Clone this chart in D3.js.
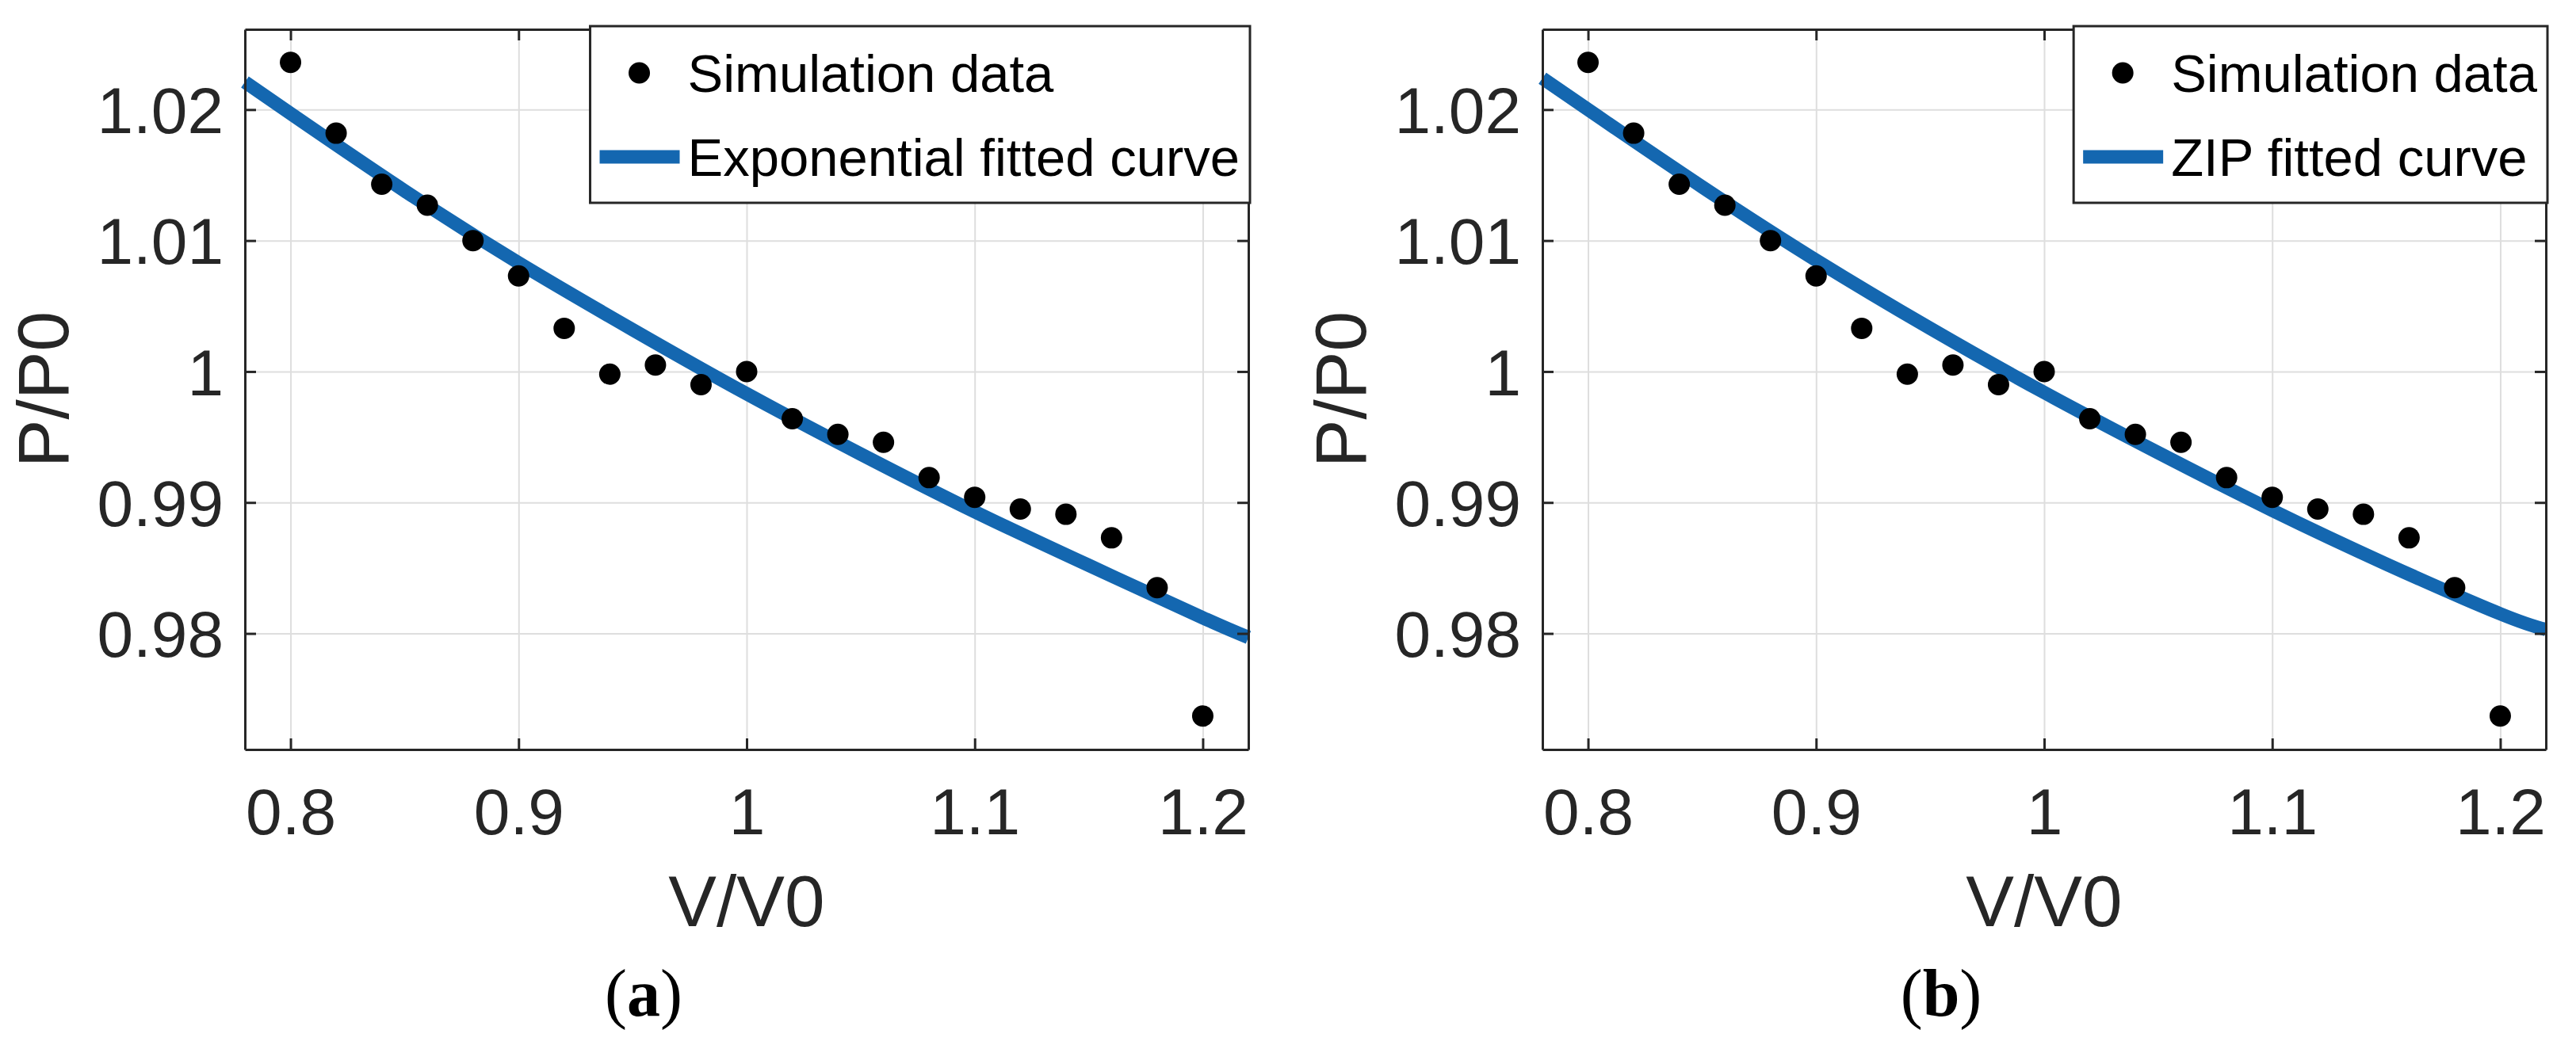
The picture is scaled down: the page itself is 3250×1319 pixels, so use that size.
<!DOCTYPE html>
<html>
<head>
<meta charset="utf-8">
<script src="https://cdn.jsdelivr.net/npm/d3@7"></script>
<style>
  body { margin: 0; background: #fff; }
  svg text { font-family: "Liberation Sans", Arial, sans-serif; }
</style>
</head>
<body>
<div class="contents"></div>
<script>
// simulation points (same in both panels)
var vRatio = [0.80, 0.82, 0.84, 0.86, 0.88, 0.90, 0.92, 0.94, 0.96, 0.98, 1.00,
              1.02, 1.04, 1.06, 1.08, 1.10, 1.12, 1.14, 1.16, 1.18, 1.20];
var pSim = [1.0236, 1.0182, 1.0143, 1.0127, 1.0100, 1.0073, 1.0033, 0.9998, 1.0005, 0.9990, 1.0000,
            0.9964, 0.9952, 0.9946, 0.9919, 0.9904, 0.9895, 0.9891, 0.9873, 0.9835, 0.9737];

// fitted curves
var vCurve = [0.78, 0.80, 0.85, 0.90, 0.95, 1.00, 1.05, 1.10, 1.15, 1.20, 1.22];
var pExp = [1.0221, 1.0197, 1.0138, 1.0083, 1.0032, 0.9983, 0.9937, 0.9893, 0.9852, 0.9812, 0.9797];
var pZip = [1.0224, 1.0200, 1.0141, 1.0085, 1.0033, 0.9984, 0.9938, 0.9894, 0.9853, 0.9815, 0.9803];

var xTicks = [0.8, 0.9, 1, 1.1, 1.2];
var yTicks = [0.98, 0.99, 1, 1.01, 1.02];
var legendNames = ["Exponential fitted curve", "ZIP fitted curve"];
var captions = ["a", "b"];

var width = 3250;
var height = 1319;
var axW = 1266, axH = 909;
var axTop = 37;
var axLefts = [309, 1946];
var blue = "#1467b0";
var dark = "#262626";

var svg = d3.select(".contents").append("svg")
            .attr("width", width)
            .attr("height", height);

function drawPanel(i, curveVals) {
  var g = svg.append("g").attr("transform", "translate(" + axLefts[i] + "," + axTop + ")");
  var x = d3.scaleLinear().domain([0.78, 1.22]).range([0, axW]);
  var y = d3.scaleLinear().domain([0.97114, 1.02613]).range([axH, 0]);

  // grid
  var gx = g.append("g").attr("transform", "translate(0," + axH + ")")
            .call(d3.axisBottom(x).tickValues(xTicks).tickSize(-axH).tickFormat(""));
  var gy = g.append("g")
            .call(d3.axisLeft(y).tickValues(yTicks).tickSize(-axW).tickFormat(""));
  [gx, gy].forEach(function(s){
    s.select(".domain").remove();
    s.selectAll("line").attr("stroke", "#dedede").attr("stroke-width", 2);
  });

  // fitted curve
  var line = d3.line()
    .x(function(d, j){ return x(vCurve[j]); })
    .y(function(d){ return y(d); })
    .curve(d3.curveNatural);
  g.append("path").datum(curveVals)
    .attr("d", line)
    .attr("fill", "none")
    .attr("stroke", blue)
    .attr("stroke-width", 17);

  // simulation points
  g.selectAll("circle.pt")
    .data(pSim)
    .enter()
    .append("circle")
    .attr("class", "pt")
    .attr("cx", function(d, j){ return x(vRatio[j]); })
    .attr("cy", function(d){ return y(d); })
    .attr("r", 13.5)
    .attr("fill", "#000");

  // axes with inward ticks on all sides
  var bottom = g.append("g").attr("transform", "translate(0," + axH + ")")
    .call(d3.axisBottom(x).tickValues(xTicks).tickSizeInner(-14).tickSizeOuter(0)
      .tickPadding(49).tickFormat(d3.format("")));
  var left = g.append("g")
    .call(d3.axisLeft(y).tickValues(yTicks).tickSizeInner(-14).tickSizeOuter(0)
      .tickPadding(27).tickFormat(d3.format("")));
  var top = g.append("g")
    .call(d3.axisTop(x).tickValues(xTicks).tickSizeInner(-14).tickSizeOuter(0).tickFormat(""));
  var right = g.append("g").attr("transform", "translate(" + axW + ",0)")
    .call(d3.axisRight(y).tickValues(yTicks).tickSizeInner(-14).tickSizeOuter(0).tickFormat(""));
  [bottom, left, top, right].forEach(function(s){
    s.select(".domain").attr("stroke", dark).attr("stroke-width", 3);
    s.selectAll("line").attr("stroke", dark).attr("stroke-width", 3);
    s.selectAll("text").attr("fill", dark).style("font-size", "82px")
      .style("font-family", "'Liberation Sans', Arial, sans-serif");
  });
  left.selectAll("text").attr("dy", "0.355em");

  // axis labels
  g.append("text")
    .attr("x", axW / 2).attr("y", 1169 - axTop)
    .attr("text-anchor", "middle")
    .attr("fill", dark)
    .style("font-size", "91px")
    .text("V/V0");
  g.append("text")
    .attr("transform", "translate(" + (86 - 309) + "," + (axH / 2) + ") rotate(-90)")
    .attr("text-anchor", "middle")
    .attr("fill", dark)
    .style("font-size", "91px")
    .text("P/P0");

  // legend
  var leg = g.append("g");
  var box = leg.append("rect").attr("fill", "#fff").attr("stroke", dark).attr("stroke-width", 3);
  var t1 = leg.append("text").text("Simulation data").style("font-size", "67px").attr("fill", "#000");
  var t2 = leg.append("text").text(legendNames[i]).style("font-size", "67px").attr("fill", "#000");
  var tw = Math.max(t1.node().getComputedTextLength(), t2.node().getComputedTextLength());
  var bw = 123 + tw + 13;
  var bx = axW + 2 - bw, by = -4;
  box.attr("x", bx).attr("y", by).attr("width", bw).attr("height", 223);
  t1.attr("x", bx + 123).attr("y", by + 59 + 24);
  t2.attr("x", bx + 123).attr("y", by + 165 + 24);
  leg.append("circle").attr("cx", bx + 62).attr("cy", by + 59).attr("r", 13.5).attr("fill", "#000");
  leg.append("line").attr("x1", bx + 12).attr("x2", bx + 113)
    .attr("y1", by + 165).attr("y2", by + 165)
    .attr("stroke", blue).attr("stroke-width", 17);

  // caption
  var cap = svg.append("text")
    .attr("x", axLefts[i] + 503).attr("y", 1282)
    .attr("text-anchor", "middle")
    .style("font-family", "'Liberation Serif', 'Times New Roman', serif")
    .style("font-size", "84px")
    .attr("fill", "#000");
  cap.append("tspan").text("(");
  cap.append("tspan").style("font-weight", "bold").text(captions[i]);
  cap.append("tspan").text(")");
}

drawPanel(0, pExp);
drawPanel(1, pZip);
</script>
</body>
</html>
